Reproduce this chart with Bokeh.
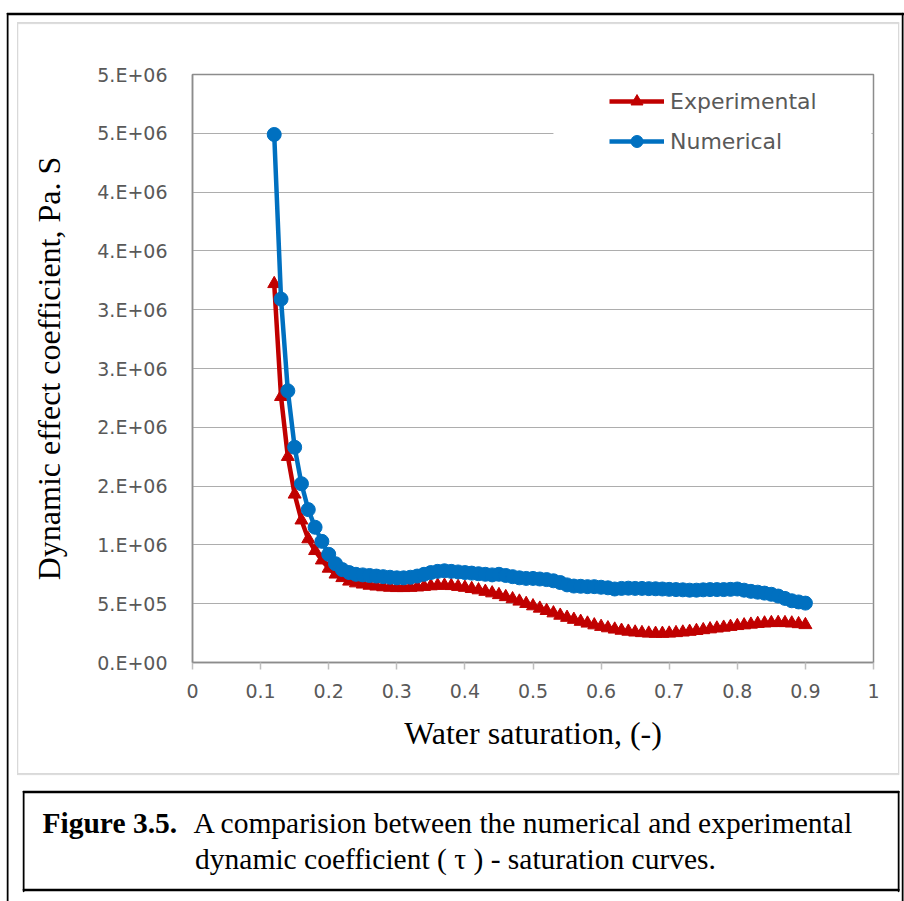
from bokeh.plotting import figure
from bokeh.models import (Range1d, FixedTicker, Legend, LegendItem, BoxAnnotation,
                          Label, ColumnDataSource)
from bokeh.embed import file_html
from bokeh.resources import INLINE

# ---------------- data ----------------
saturation = [0.12, 0.13, 0.14, 0.15, 0.16, 0.17, 0.18, 0.19, 0.20, 0.21,
              0.22, 0.23, 0.24, 0.25, 0.26, 0.27, 0.28, 0.29, 0.30, 0.31,
              0.32, 0.33, 0.34, 0.35, 0.36, 0.37, 0.38, 0.39, 0.40, 0.41,
              0.42, 0.43, 0.44, 0.45, 0.46, 0.47, 0.48, 0.49, 0.50, 0.51,
              0.52, 0.53, 0.54, 0.55, 0.56, 0.57, 0.58, 0.59, 0.60, 0.61,
              0.62, 0.63, 0.64, 0.65, 0.66, 0.67, 0.68, 0.69, 0.70, 0.71,
              0.72, 0.73, 0.74, 0.75, 0.76, 0.77, 0.78, 0.79, 0.80, 0.81,
              0.82, 0.83, 0.84, 0.85, 0.86, 0.87, 0.88, 0.89, 0.90]

experimental = [3.22e6, 2.26e6, 1.75e6, 1.43e6, 1.21e6, 1.05e6, 0.95e6, 0.87e6, 0.80e6, 0.75e6,
                0.72e6, 0.69e6, 0.675e6, 0.665e6, 0.655e6, 0.648e6, 0.642e6, 0.638e6, 0.635e6, 0.635e6,
                0.637e6, 0.640e6, 0.645e6, 0.650e6, 0.655e6, 0.655e6, 0.652e6, 0.645e6, 0.637e6, 0.627e6,
                0.616e6, 0.603e6, 0.590e6, 0.575e6, 0.558e6, 0.540e6, 0.520e6, 0.500e6, 0.480e6, 0.460e6,
                0.440e6, 0.420e6, 0.400e6, 0.382e6, 0.365e6, 0.348e6, 0.333e6, 0.318e6, 0.305e6, 0.293e6,
                0.282e6, 0.272e6, 0.264e6, 0.257e6, 0.252e6, 0.248e6, 0.246e6, 0.246e6, 0.248e6, 0.252e6,
                0.257e6, 0.263e6, 0.270e6, 0.277e6, 0.284e6, 0.291e6, 0.298e6, 0.305e6, 0.312e6, 0.318e6,
                0.324e6, 0.330e6, 0.334e6, 0.337e6, 0.338e6, 0.337e6, 0.334e6, 0.328e6, 0.320e6]

numerical = [4.49e6, 3.09e6, 2.31e6, 1.83e6, 1.52e6, 1.30e6, 1.15e6, 1.03e6, 0.92e6, 0.84e6,
             0.79e6, 0.765e6, 0.75e6, 0.745e6, 0.74e6, 0.735e6, 0.73e6, 0.725e6, 0.72e6, 0.72e6,
             0.725e6, 0.735e6, 0.75e6, 0.765e6, 0.775e6, 0.78e6, 0.775e6, 0.77e6, 0.765e6, 0.76e6,
             0.755e6, 0.75e6, 0.745e6, 0.75e6, 0.74e6, 0.73e6, 0.72e6, 0.715e6, 0.715e6, 0.71e6,
             0.705e6, 0.695e6, 0.68e6, 0.66e6, 0.65e6, 0.648e6, 0.645e6, 0.645e6, 0.64e6, 0.635e6,
             0.625e6, 0.63e6, 0.632e6, 0.63e6, 0.63e6, 0.628e6, 0.627e6, 0.625e6, 0.622e6, 0.62e6,
             0.618e6, 0.615e6, 0.615e6, 0.618e6, 0.62e6, 0.62e6, 0.62e6, 0.622e6, 0.625e6, 0.615e6,
             0.605e6, 0.598e6, 0.59e6, 0.58e6, 0.565e6, 0.545e6, 0.525e6, 0.515e6, 0.505e6]

series_names = ["Experimental", "Numerical"]

y_ticks = [0, 5e5, 1e6, 1.5e6, 2e6, 2.5e6, 3e6, 3.5e6, 4e6, 4.5e6, 5e6]
y_tick_labels = ["0.E+00", "5.E+05", "1.E+06", "2.E+06", "2.E+06", "3.E+06",
                 "3.E+06", "4.E+06", "4.E+06", "5.E+06", "5.E+06"]
x_ticks = [0, 0.1, 0.2, 0.3, 0.4, 0.5, 0.6, 0.7, 0.8, 0.9, 1.0]
x_tick_labels = ["0", "0.1", "0.2", "0.3", "0.4", "0.5", "0.6", "0.7", "0.8", "0.9", "1"]

x_title = "Water saturation, (-)"
y_title = "Dynamic effect coefficient, Pa. S"
caption_bold = "Figure 3.5."
caption_line1 = "A comparision between the numerical and experimental"
caption_line2 = "dynamic coefficient ( \u03c4 ) - saturation curves."

# ---------------- styles ----------------
RED = "#C00000"
BLUE = "#0070C0"
TICK_FONT = "DejaVu Sans"
SERIF = "Liberation Serif"
W, H = 904, 901

p = figure(width=W, height=H, output_backend="svg", toolbar_location=None,
           x_range=Range1d(0, 1), y_range=Range1d(0, 5e6),
           min_border_left=192, min_border_right=31, min_border_top=74, min_border_bottom=239)
p.title.visible = False
p.background_fill_color = "white"
p.border_fill_color = "white"
p.outline_line_color = "#8C8C8C"
p.outline_line_width = 1.5

# axes
p.xaxis.ticker = FixedTicker(ticks=x_ticks)
p.xaxis.major_label_overrides = {t: l for t, l in zip(x_ticks, x_tick_labels)}
p.yaxis.ticker = FixedTicker(ticks=y_ticks)
p.yaxis.major_label_overrides = {t: l for t, l in zip(y_ticks, y_tick_labels)}
for ax in (p.xaxis[0], p.yaxis[0]):
    ax.axis_line_color = "#8C8C8C"
    ax.axis_line_width = 1.5
    ax.minor_tick_line_color = None
    ax.major_label_text_font = TICK_FONT
    ax.major_label_text_font_size = "19px"
    ax.major_label_text_color = "#595959"
    ax.axis_label_text_font = SERIF
    ax.axis_label_text_font_size = "32px"
    ax.axis_label_text_font_style = "normal"
    ax.axis_label_text_color = "black"
p.xaxis.major_tick_line_color = "#BFBFBF"
p.xaxis.major_tick_line_width = 1.5
p.xaxis.major_tick_out = 7
p.xaxis.major_tick_in = 0
p.xaxis.major_label_standoff = 14
p.xaxis.axis_label = x_title
p.xaxis.axis_label_standoff = 14
p.yaxis.major_tick_line_color = None
p.yaxis.major_tick_out = 0
p.yaxis.major_tick_in = 0
p.yaxis.major_label_standoff = 25
p.yaxis.axis_label = y_title
p.yaxis.axis_label_standoff = 27

p.xgrid.grid_line_color = None
p.ygrid.grid_line_color = "#ADADAD"
p.ygrid.grid_line_width = 1.2

# series
src_e = ColumnDataSource(dict(x=saturation, y=experimental))
src_n = ColumnDataSource(dict(x=saturation, y=numerical))
le = p.line("x", "y", source=src_e, line_color=RED, line_width=4.5)
me = p.scatter("x", "y", source=src_e, marker="triangle", size=13,
               fill_color=RED, line_color=RED)
ln = p.line("x", "y", source=src_n, line_color=BLUE, line_width=4.5)
mn = p.scatter("x", "y", source=src_n, marker="circle", size=14,
               fill_color=BLUE, line_color=BLUE)

# white area behind legend (hides gridline there)
p.add_layout(BoxAnnotation(left=0.53, right=0.997, bottom=4.25e6, top=4.85e6,
                           fill_color="white", fill_alpha=1.0, line_color=None,
                           level="underlay"))

legend = Legend(items=[LegendItem(label=series_names[0], renderers=[le, me]),
                       LegendItem(label=series_names[1], renderers=[ln, mn])],
                location=(417, 506), orientation="vertical",
                glyph_width=55, glyph_height=30, spacing=10, padding=5,
                label_standoff=6, label_text_font=TICK_FONT,
                label_text_font_size="22px", label_text_color="#595959",
                background_fill_alpha=0, border_line_color=None)
p.add_layout(legend)

# ---------------- page decorations (canvas px, y down; placed in side panels so they are not clipped) ----------------
def vline(x, y0, length, color, width, side):
    p.add_layout(Label(x=x, y=y0, x_units="canvas", y_units="canvas", text=" ",
                       text_font_size="1px", text_align="left", text_baseline="top",
                       padding=(0, 0, length, 0), border_line_color=color,
                       border_line_width=width, background_fill_alpha=0), side)

def hline(x0, y, length, color, width, side):
    p.add_layout(Label(x=x0, y=y, x_units="canvas", y_units="canvas", text=" ",
                       text_font_size="1px", text_align="left", text_baseline="top",
                       padding=(0, length, 0, 0), border_line_color=color,
                       border_line_width=width, background_fill_alpha=0), side)

# outer black frame
vline(7, 13, 900, "black", 1.5, "left")
hline(7, 13, 896, "black", 1.5, "above")
vline(902, 13, 900, "black", 1.5, "right")
# light grey chart box
vline(17, 22, 751, "#D9D9D9", 1, "left")
vline(898, 22, 751, "#D9D9D9", 1, "right")
hline(17, 22, 881, "#D9D9D9", 1, "above")
hline(17, 773, 881, "#D9D9D9", 1, "below")
# caption box
vline(23, 791, 99, "black", 1.5, "left")
vline(898, 791, 99, "black", 1.5, "right")
hline(23, 791, 875, "black", 1.5, "below")
hline(23, 889, 875, "black", 1.5, "below")

def lab(x, y, text, side, style="normal", align="left"):
    p.add_layout(Label(x=x, y=y, x_units="canvas", y_units="canvas", text=text,
                       text_font=SERIF, text_font_size="29.5px", text_font_style=style,
                       text_color="black", text_align=align, text_baseline="middle"), side)

lab(42, 822, caption_bold, "below", style="bold")
lab(193, 822, caption_line1, "below")
lab(455, 858, caption_line2, "above", align="center")

open("out.html", "w").write(file_html(p, INLINE))
